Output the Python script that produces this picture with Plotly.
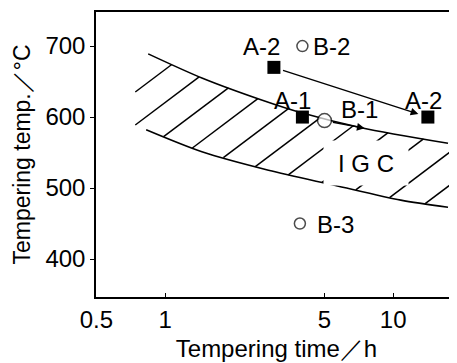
import numpy as np
import plotly.graph_objects as go

# ---- data ----
upper_time = [0.843, 1.45, 2.65, 3.96, 7.25, 17.4]
upper_temp = [689, 655, 624, 606, 585, 563]
lower_time = [0.826, 1.45, 2.84, 5.52, 10.8, 17.4]
lower_temp = [582, 551, 525, 504, 483, 473]

a_names = ["A-2", "A-1", "A-2"]
a_time = [3.0, 4.0, 14.2]
a_temp = [670, 600, 600]

b_names = ["B-2", "B-1", "B-3"]
b_time = [4.0, 5.0, 3.9]
b_temp = [700, 595, 450]

region_label = "I G C"

x_tickvals = [0.5, 1, 5, 10]
x_ticktext = ["0.5", "1", "5", "10"]
y_tickvals = [400, 500, 600, 700]

FONT = "Liberation Sans, Arial, sans-serif"
FS = 24

fig = go.Figure()

# ---- hatching between the two curves ----
Lu = np.log10(upper_time)
Ll = np.log10(lower_time)
Lgrid = np.linspace(np.log10(0.74), np.log10(18.4), 3000)
yu = np.interp(Lgrid, Lu, upper_temp)
yl = np.interp(Lgrid, Ll, lower_temp)
slope = 242.0      # degC per decade (hatch direction)
spacing = 46.5     # degC between hatch lines
L_start = np.log10(1.07)
c0 = np.interp(L_start, Lu, upper_temp) - slope * L_start
hx, hy = [], []
k = 0
while True:
    c = c0 - k * spacing
    y = c + slope * Lgrid
    inside = (y >= yl) & (y <= yu)
    if k > 3 and not inside.any():
        break
    idx = np.where(inside)[0]
    if idx.size:
        splits = np.where(np.diff(idx) > 1)[0]
        starts = np.concatenate([[idx[0]], idx[splits + 1]])
        ends = np.concatenate([idx[splits], [idx[-1]]])
        for s, e in zip(starts, ends):
            hx += [10 ** Lgrid[s], 10 ** Lgrid[e], None]
            hy += [y[s], y[e], None]
    k += 1
    if k > 40:
        break

fig.add_trace(go.Scatter(x=hx, y=hy, mode="lines",
                         line=dict(color="black", width=1.5),
                         hoverinfo="skip", showlegend=False))

# ---- boundary curves ----
fig.add_trace(go.Scatter(x=upper_time, y=upper_temp, mode="lines",
                         line=dict(color="black", width=1.6, shape="spline", smoothing=0.8),
                         showlegend=False))
fig.add_trace(go.Scatter(x=lower_time, y=lower_temp, mode="lines",
                         line=dict(color="black", width=1.6, shape="spline", smoothing=0.8),
                         showlegend=False))

# ---- arrows ----
lg = np.log10
fig.add_annotation(x=lg(a_time[2]), y=a_temp[2], ax=lg(a_time[0]), ay=a_temp[0],
                   xref="x", yref="y", axref="x", ayref="y", text="",
                   showarrow=True, arrowhead=2, arrowsize=1.1, arrowwidth=1.4,
                   arrowcolor="black", standoff=10, startstandoff=8)
arrow_end_t = 7.5
arrow_end_y = float(np.interp(lg(arrow_end_t), Lu, upper_temp))
fig.add_annotation(x=lg(arrow_end_t), y=arrow_end_y, ax=lg(b_time[1]), ay=b_temp[1],
                   xref="x", yref="y", axref="x", ayref="y", text="",
                   showarrow=True, arrowhead=2, arrowsize=1.1, arrowwidth=1.4,
                   arrowcolor="black", standoff=0, startstandoff=7)

# ---- markers ----
fig.add_trace(go.Scatter(x=a_time, y=a_temp, mode="markers",
                         marker=dict(symbol="square", size=13, color="black"),
                         showlegend=False))
fig.add_trace(go.Scatter(x=b_time, y=b_temp, mode="markers",
                         marker=dict(symbol="circle", size=[11, 14, 11], color="white",
                                     line=dict(color="black", width=1.5)),
                         showlegend=False))

# ---- labels ----
def label(text, t, y, **kw):
    fig.add_annotation(x=lg(t), y=y, text=text, showarrow=False,
                       font=dict(family=FONT, size=FS, color="black"), **kw)

label(a_names[0], 2.65, 699)
label(b_names[0], 5.39, 699)
label(a_names[1], 3.62, 624)
label(b_names[1], 7.1, 611)
label(a_names[2], 13.6, 624)
label(b_names[2], 5.56, 448)
label(region_label, 7.62, 535, bgcolor="white", width=82, height=42)

# The page adds an 8px body margin, so the figure is offset by 8px.
fig.update_layout(
    width=449, height=355,
    margin=dict(l=88, r=0, t=4, b=66, autoexpand=False),
    paper_bgcolor="white", plot_bgcolor="white",
    font=dict(family=FONT, size=FS, color="black"),
    showlegend=False,
    xaxis=dict(type="log", range=[-0.303, 1.28], automargin=False,
               tickvals=x_tickvals, ticktext=x_ticktext,
               ticks="inside", ticklen=4, tickcolor="black", tickwidth=1.3,
               showline=True, linecolor="black", linewidth=1.5, mirror=True,
               showgrid=False, zeroline=False,
               tickfont=dict(size=FS), ticklabelstandoff=0,
               title=dict(text="Tempering time／h", font=dict(size=24), standoff=9)),
    yaxis=dict(range=[346.5, 748], automargin=False,
               tickvals=y_tickvals, ticks="outside", ticklen=4,
               tickcolor="black", tickwidth=1.3,
               showline=True, linecolor="black", linewidth=1.5,
               showgrid=False, zeroline=False,
               tickfont=dict(size=FS),
               title=dict(text="Tempering temp.／°C", font=dict(size=23), standoff=8)),
)

fig.write_html("out.html")
